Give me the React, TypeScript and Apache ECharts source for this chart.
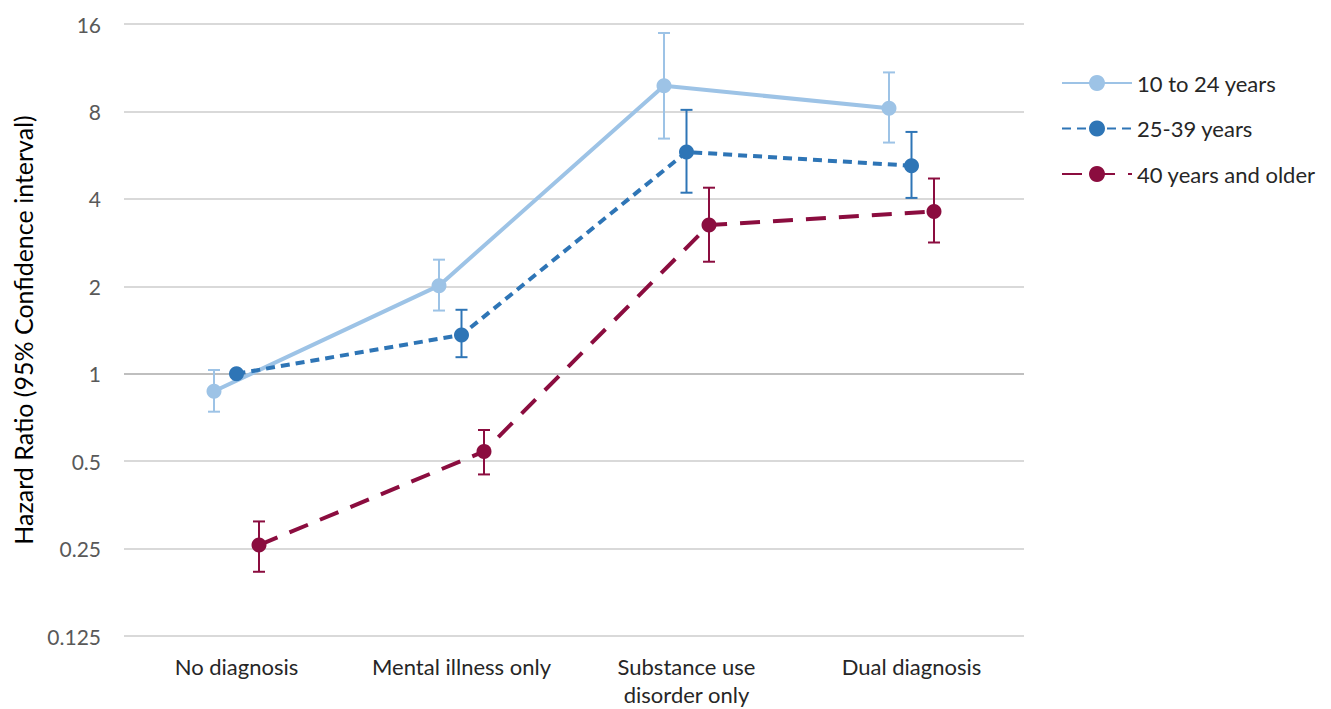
import React, { useEffect, useRef } from "react";
import * as echarts from "echarts";

const categories = ["No diagnosis", "Mental illness only", "Substance use\ndisorder only", "Dual diagnosis"];
const seriesNames = ["10 to 24 years", "25-39 years", "40 years and older"];
const yTicks = [0.125, 0.25, 0.5, 1, 2, 4, 8, 16];

const youngHR = [0.87, 2.01, 9.8, 8.2];
const youngLow = [0.74, 1.65, 6.45, 6.25];
const youngHigh = [1.03, 2.47, 14.9, 10.9];

const midHR = [1.0, 1.36, 5.8, 5.2];
const midLow = [null, 1.14, 4.2, 4.03];
const midHigh = [null, 1.66, 8.1, 6.8];

const oldHR = [0.257, 0.54, 3.25, 3.62];
const oldLow = [0.208, 0.45, 2.43, 2.83];
const oldHigh = [0.31, 0.64, 4.37, 4.7];

const colors = ["#9DC3E6", "#2E75B6", "#8B0D3F"];
const dodge = [-0.1, 0, 0.1];
const FONT = "Lato";
const lg = (v: number) => Math.log2(v);

export default function App() {
  const ref = useRef<HTMLDivElement>(null);
  useEffect(() => {
    if (!ref.current) return;
    const chart = echarts.init(ref.current, undefined, { renderer: "svg" });
    const groups = [
      { hr: youngHR, lo: youngLow, hi: youngHigh, dash: "solid" as any },
      { hr: midHR, lo: midLow, hi: midHigh, dash: [9, 6] },
      { hr: oldHR, lo: oldLow, hi: oldHigh, dash: [20, 13] },
    ];
    const series: any[] = [];
    groups.forEach((g, si) => {
      series.push({
        type: "custom",
        name: seriesNames[si] + " CI",
        xAxisIndex: 1,
        z: 3,
        itemStyle: { color: colors[si] },
        data: g.hr
          .map((_, i) =>
            g.lo[i] == null ? null : [i + 0.5 + dodge[si], lg(g.lo[i] as number), lg(g.hi[i] as number)]
          )
          .filter((d) => d != null),
        renderItem: (params: any, api: any) => {
          const x = api.value(0);
          const p1 = api.coord([x, api.value(1)]);
          const p2 = api.coord([x, api.value(2)]);
          const cw = 6;
          const style = { stroke: colors[si], lineWidth: 2 };
          return {
            type: "group",
            children: [
              { type: "line", shape: { x1: p1[0], y1: p1[1], x2: p2[0], y2: p2[1] }, style },
              { type: "line", shape: { x1: p1[0] - cw, y1: p1[1], x2: p1[0] + cw, y2: p1[1] }, style },
              { type: "line", shape: { x1: p2[0] - cw, y1: p2[1], x2: p2[0] + cw, y2: p2[1] }, style },
            ],
          };
        },
      });
      series.push({
        type: "line",
        name: seriesNames[si],
        xAxisIndex: 1,
        z: 4,
        color: colors[si],
        data: g.hr.map((v, i) => [i + 0.5 + dodge[si], lg(v)]),
        symbol: "circle",
        symbolSize: 15,
        lineStyle: { color: colors[si], width: 4, type: g.dash },
        itemStyle: { color: colors[si] },
      });
    });
    chart.setOption({
      animation: false,
      backgroundColor: "#ffffff",
      textStyle: { fontFamily: FONT },
      grid: { left: 124, width: 900, top: 24, height: 612, outerBoundsMode: "none", containLabel: false },
      legend: {
        data: seriesNames,
        orient: "vertical",
        left: 1056,
        top: 67,
        itemWidth: 70,
        itemHeight: 20,
        itemGap: 23.5,
        textStyle: { fontSize: 22, lineHeight: 20, color: "#262626", fontFamily: FONT },
      },
      xAxis: [
        {
          type: "category",
          data: categories,
          boundaryGap: true,
          axisLine: { show: false },
          axisTick: { show: false },
          axisLabel: { fontSize: 22, color: "#262626", margin: 16, lineHeight: 28, interval: 0 },
        },
        { type: "value", min: 0, max: 4, show: false },
      ],
      yAxis: {
        type: "value",
        min: lg(yTicks[0]),
        max: lg(yTicks[yTicks.length - 1]),
        interval: 1,
        name: "Hazard Ratio (95% Confidence interval)",
        nameLocation: "middle",
        nameRotate: 90,
        nameGap: 89,
        nameTextStyle: { fontSize: 25, color: "#000000" },
        axisLine: { show: false },
        axisTick: { show: false },
        axisLabel: {
          fontSize: 21,
          color: "#595959",
          margin: 23,
          formatter: (v: number) => String(yTicks[Math.round(v - lg(yTicks[0]))]),
        },
        splitLine: {
          lineStyle: {
            color: ["#d9d9d9", "#d9d9d9", "#d9d9d9", "#bfbfbf", "#d9d9d9", "#d9d9d9", "#d9d9d9", "#d9d9d9"],
            width: 2,
          },
        },
      },
      series,
    });
    return () => chart.dispose();
  }, []);
  return <div ref={ref} style={{ position: "fixed", left: 0, top: 0, width: 1331, height: 709 }} />;
}
